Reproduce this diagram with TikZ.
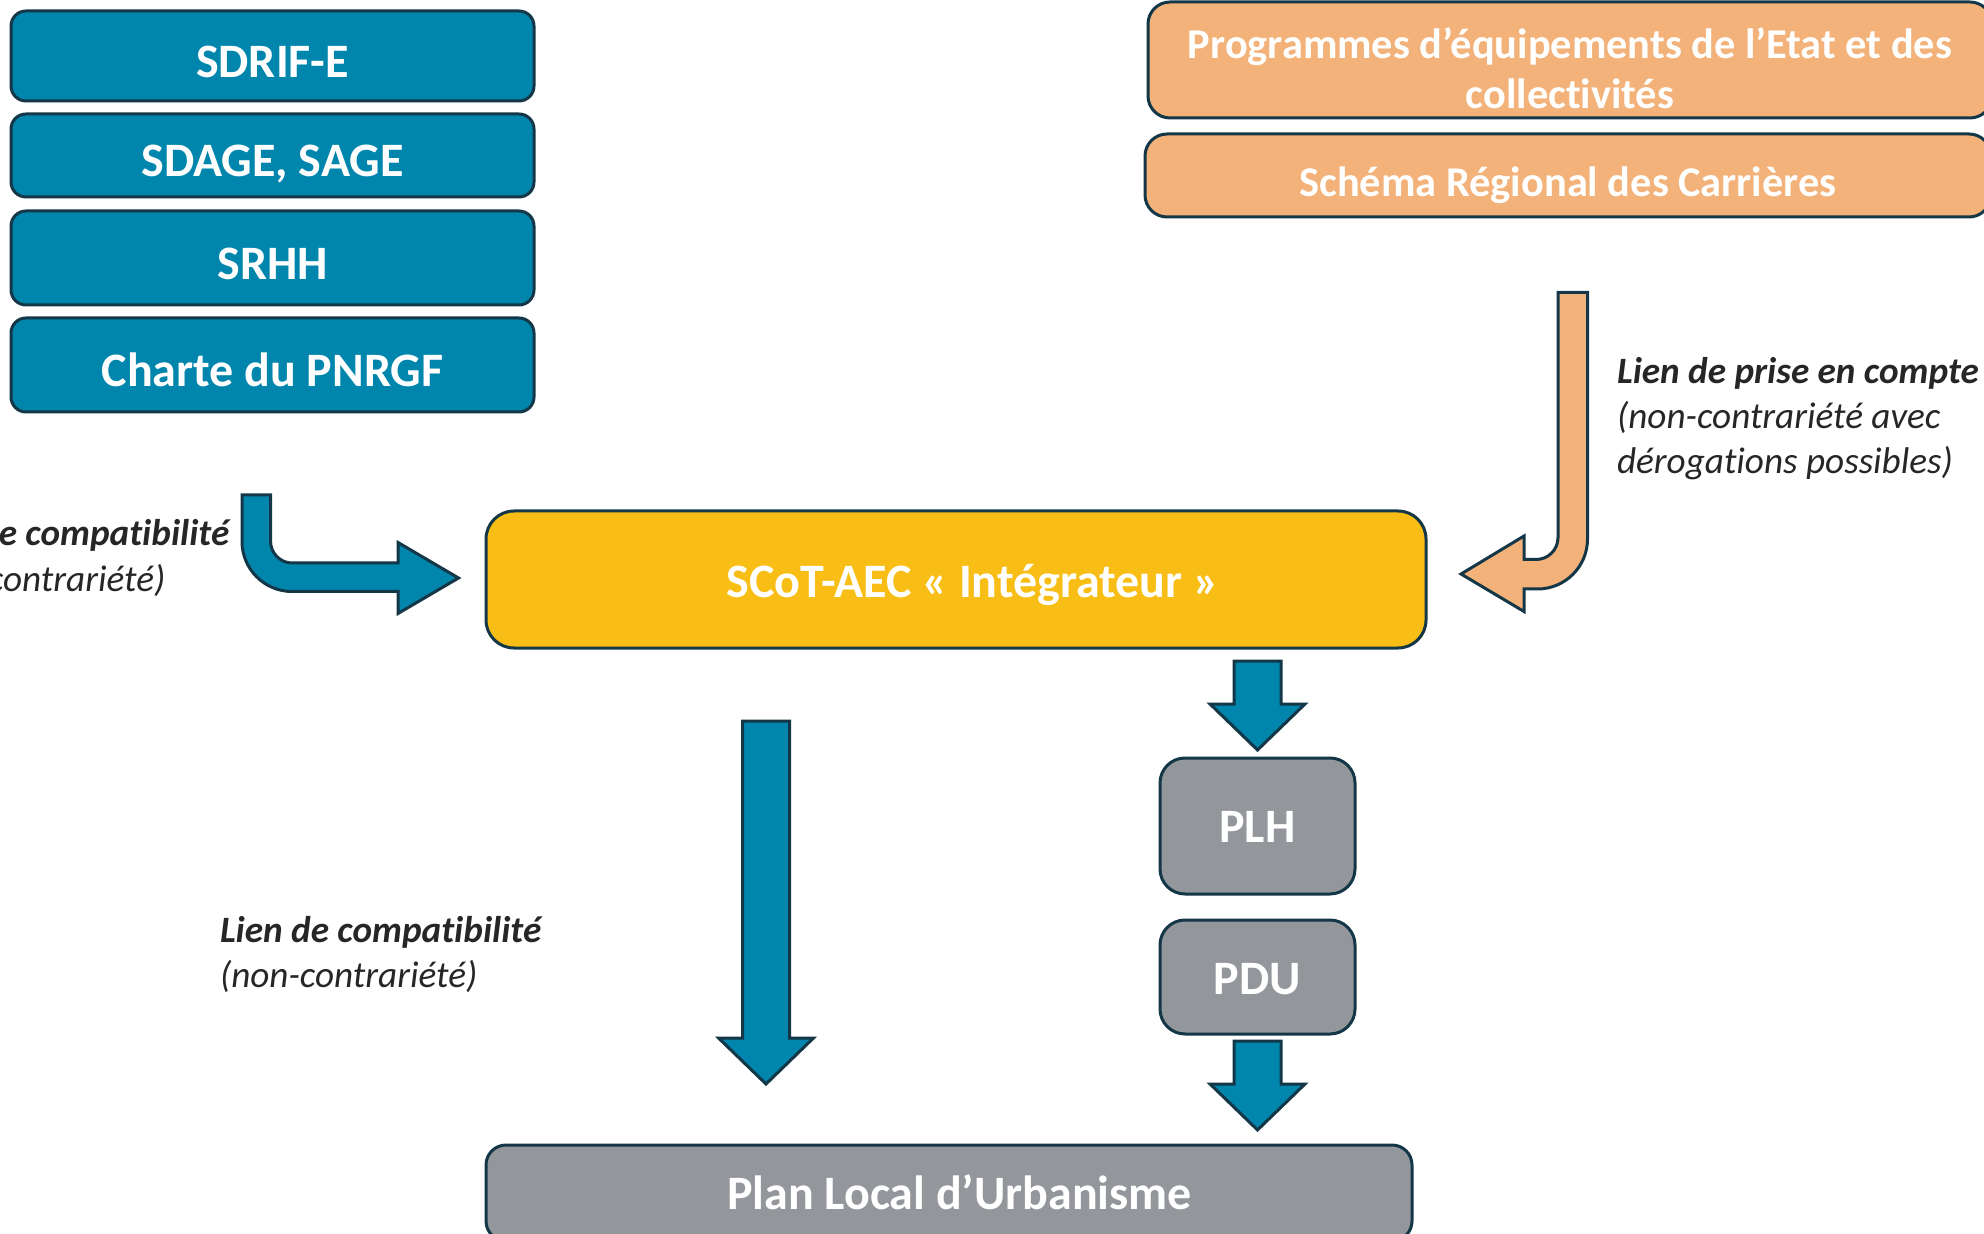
\documentclass[tikz,border=0pt]{standalone}
\usepackage{fontspec}
\setmainfont{Carlito}[Ligatures=NoCommon]
\usetikzlibrary{calc}
\definecolor{blueC}{RGB}{0,134,173}
\definecolor{orangeC}{RGB}{243,178,121}
\definecolor{yellowC}{RGB}{249,190,22}
\definecolor{grayC}{RGB}{147,150,155}
\definecolor{lineC}{RGB}{20,55,72}
\definecolor{labelC}{RGB}{38,38,38}
\begin{document}
\begin{tikzpicture}[x=0.5pt,y=-0.5pt,
 box/.style={draw=lineC, line width=1.5pt, inner sep=0pt, outer sep=0pt, text=white},
 bluebox/.style={box, fill=blueC, rounded corners=7.5pt, minimum width=261.5pt, font=\fontsize{24}{29}\selectfont\bfseries, text height=21.1pt, text depth=0pt},
 orangebox/.style={box, fill=orangeC, rounded corners=11pt, font=\fontsize{21.2}{24.7}\selectfont\bfseries},
 graybox/.style={box, fill=grayC, font=\fontsize{24}{29}\selectfont\bfseries, text height=16.5pt, text depth=0pt},
 lab/.style={anchor=base west, inner sep=0pt, outer sep=0pt, text=labelC, font=\fontsize{18.6}{22.5}\selectfont},
 blockarrow/.style={draw=lineC, line width=1.5pt, fill=blueC, line join=miter},
 blockdown/.style={blockarrow, to path={ ($(\tikztostart)+(-23.5,0)$) -- ($(\tikztostart)+(23.5,0)$) -- ($(\tikztotarget)+(23.5,-46)$) -- ($(\tikztotarget)+(47.5,-46)$) -- (\tikztotarget) -- ($(\tikztotarget)+(-47.5,-46)$) -- ($(\tikztotarget)+(-23.5,-46)$) -- cycle}}
]
\useasboundingbox (0,0) rectangle (1984,1234);
\clip (0,0) rectangle (1984,1234);

% left blue stack
\node[bluebox, minimum height=45pt] (sdrif) at (272.5,56) {SDRIF-E};
\node[bluebox, minimum height=41.5pt] (sdage) at (272.5,155.5) {SDAGE, SAGE};
\node[bluebox, minimum height=47pt] (srhh) at (272.5,258) {SRHH};
\node[bluebox, minimum height=47pt] (charte) at (272.5,365) {Charte du PNRGF};

% right orange stack
\node[orangebox, minimum width=422pt, minimum height=58pt, text height=10pt, text depth=11.2pt] (prog) at (1570,60)
  {\begin{tabular}[t]{@{}c@{}}Programmes d’équipements de l’Etat et des\\collectivités\end{tabular}};
\node[orangebox, minimum width=423pt, minimum height=41.5pt, text height=21.1pt, text depth=0pt] (src) at (1568,175.5) {Schéma Régional des Carrières};

% central
\node[box, fill=yellowC, rounded corners=14pt, minimum width=470pt, minimum height=68.5pt, font=\fontsize{24}{29}\selectfont\bfseries, text height=17.7pt, text depth=0pt] (scot) at (956,579.5) {\hspace*{17pt}SCoT-AEC « Intégrateur »};
\node[graybox, rounded corners=12.5pt, minimum width=97.5pt, minimum height=68pt] (plh) at (1257.5,826) {PLH};
\node[graybox, rounded corners=12.5pt, minimum width=97.5pt, minimum height=57pt, text height=17.7pt] (pdu) at (1257.5,977) {PDU};
\node[graybox, rounded corners=10pt, minimum width=463pt, minimum height=48pt] (plu) at (949,1193) {\hspace*{10.5pt}Plan Local d’Urbanisme};

% labels
\node[lab] (labA) at (-92,546) {\begin{tabular}[t]{@{}l@{}}\textbf{\itshape Lien de compatibilité}\\\itshape (non-contrariété)\end{tabular}};
\node[lab] (labB) at (220,942.5) {\begin{tabular}[t]{@{}l@{}}\textbf{\itshape Lien de compatibilité}\\\itshape (non-contrariété)\end{tabular}};
\node[lab] (labC) at (1617,383.5) {\begin{tabular}[t]{@{}l@{}}\textbf{\itshape Lien de prise en compte}\\\itshape (non-contrariété avec\\\itshape dérogations possibles)\end{tabular}};

% bent arrows
\draw[blockarrow] (242,495) -- (270.5,495) -- (270.5,541) .. controls (270.5,552.9) and (280.1,563) .. (292,563) -- (398,563) -- (398,542.5) -- (458.5,578) -- (398,613.5) -- (398,591.5) -- (292,591.5) .. controls (264.4,591.5) and (242,569.1) .. (242,541.5) -- cycle;
\draw[blockarrow, fill=orangeC] (1558,292.5) -- (1587.5,292.5) -- (1587.5,539) .. controls (1587.5,566.6) and (1565.1,589) .. (1537.5,589) -- (1524,589) -- (1524,611.5) -- (1461,574) -- (1524,536) -- (1524,559.5) -- (1536,559.5) .. controls (1548.2,559.5) and (1558,549.7) .. (1558,537.5) -- cycle;

% straight block arrows
\coordinate (a1s) at ($(scot.south)+(-190,73)$);
\coordinate (a1e) at ($(plu.north)+(-183,-61)$);
\coordinate (a2s) at ($(scot.south -| plh.north)+(0,13)$);
\coordinate (a2e) at ($(plh.north)+(0,-8)$);
\coordinate (a3s) at ($(pdu.south)+(0,7)$);
\coordinate (a3e) at ($(plu.north -| pdu.south)+(0,-15)$);
\draw[blockdown] (a1s) to (a1e);
\draw[blockdown] (a2s) to (a2e);
\draw[blockdown] (a3s) to (a3e);
\end{tikzpicture}
\end{document}
